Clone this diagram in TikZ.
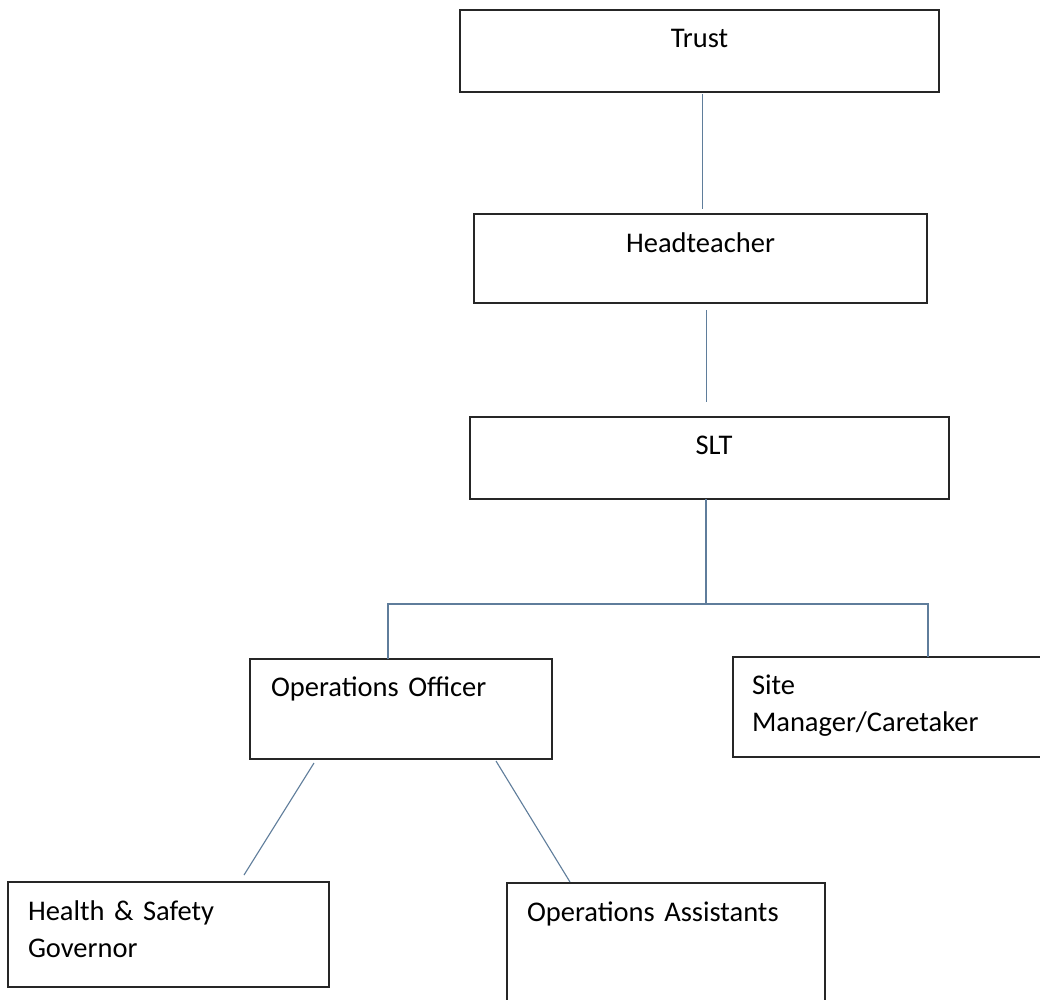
\documentclass[tikz,border=0pt]{standalone}
\usepackage{fontspec}
\setmainfont{Carlito}
\usepackage{tikz}
\usetikzlibrary{calc}
\definecolor{linkblue}{RGB}{95,125,155}
\tikzset{
  post/.style={draw=black!85, line width=1.3pt, anchor=north west, outer sep=0pt,
    inner ysep=0pt, font=\fontsize{28.5}{37.5}\selectfont},
  link/.style={draw=linkblue, line width=1.1pt},
}

\begin{document}
\begin{tikzpicture}[x=1pt, y=-1pt]

  \fill[white] (0,0) rectangle (1040,999);
  \useasboundingbox (0,0) rectangle (1040,999);
  \clip (0,0) rectangle (1040,999);

  % top row, text centred
  \node[post, align=center, inner xsep=0pt, text width=479pt, text height=37pt, text depth=45pt] (trust) at (460,10) {Trust\hspace*{5pt}};
  \node[post, align=center, inner xsep=0pt, text width=453pt, text height=38pt, text depth=51pt] (head) at (474,214) {Headteacher};
  \node[post, align=center, inner xsep=0pt, text width=479pt, text height=37pt, text depth=45pt] (slt) at (470,417) {\hspace*{9pt}SLT};

  % lower rows, text left
  \node[post, align=left, inner xsep=21pt, text width=260pt, text height=37pt, text depth=63pt] (oo) at (250,659) {Operations Officer};
  \node[post, align=left, inner xsep=19pt, text width=300pt, text height=37pt, text depth=63pt] (site) at (733,657) {Site\\Manager/Caretaker};
  \node[post, align=left, inner xsep=20pt, text width=281pt, text height=38pt, text depth=67pt] (hs) at (8,882) {Health \& Safety\\Governor};
  \node[post, align=left, inner xsep=20pt, text width=278pt, text height=38pt, text depth=100pt] (oa) at (507,883) {Operations Assistants};

  \coordinate (fork) at (706,604);
  \coordinate (forkL) at (388,604);
  \coordinate (forkR) at (928,604);

  \draw[link, shorten <=2pt, shorten >=5pt] ([xshift=3pt]trust.south) -- ([xshift=2pt]head.north); % trust -> head
  \draw[link, shorten <=7pt, shorten >=15pt] ([xshift=6pt]head.south) -- ([xshift=-3pt]slt.north); % head -> slt
  \draw[link] (slt.south -| fork) -- (fork); % slt -> fork
  \draw[link] (oo.north -| forkL) -- (forkL) -- (forkR) -- (site.north -| forkR); % fork -> oo, site
  \draw[link] ($(oo.south west)+(64,4)$) -- ($(hs.north west)+(236,-7)$); % oo -> hs
  \draw[link] ($(oo.south west)+(246,2)$) -- ($(oa.north west)+(63,-1)$); % oo -> oa

\end{tikzpicture}
\end{document}
